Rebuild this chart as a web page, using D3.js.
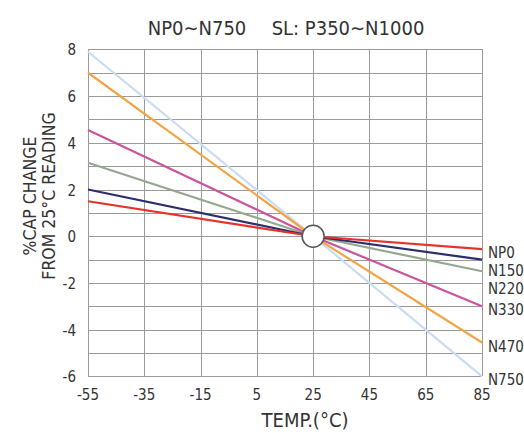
<!DOCTYPE html>
<meta charset="utf-8">
<title>Cap change vs temp</title>
<style>
body {
  margin: 0;
  background: #fff;
}
svg text {
  font-family: 'Liberation Sans Narrow', 'DejaVu Sans Condensed', sans-serif;
  font-stretch: condensed;
  fill: #333;
}
.grid line {
  stroke: #9a9a9a;
  stroke-width: 1;
  shape-rendering: crispEdges;
}
.series {
  fill: none;
  stroke-width: 2.2;
}
</style>
<body>
<svg width="524" height="433"></svg>
<script src="https://d3js.org/d3.v7.min.js"></script>
<script>
// temperatures (all curves pivot at 25C)
var temps = [-55, 25, 85];
var xTicks = [-55, -35, -15, 5, 25, 45, 65, 85];
var yTicks = [8, 6, 4, 2, 0, -2, -4, -6];

var seriesNames = ["N750", "N470", "N330", "N220", "N150", "NP0"];
var n750 = [7.9, 0, -6.0];
var n470 = [7.0, 0, -4.55];
var n330 = [4.55, 0, -3.0];
var n220 = [3.15, 0, -1.5];
var n150 = [2.0, 0, -1.0];
var np0  = [1.5, 0, -0.55];
var seriesColors = ["#c9dcf0", "#f4a445", "#c9559a", "#93a88e", "#2c2d6c", "#e5332c"];

var series = [n750, n470, n330, n220, n150, np0].map(function(v, i) {
  return { name: seriesNames[i], color: seriesColors[i],
           pts: v.map(function(d, j) { return { t: temps[j], v: d }; }) };
});

var svg = d3.select("svg");

var x = d3.scaleLinear().domain([-55, 85]).range([88, 482]);
var y = d3.scaleLinear().domain([-6, 8]).range([376.4, 49.4]);

// grid
var grid = svg.append("g").attr("class", "grid");
grid.selectAll("line.v")
  .data(xTicks)
  .enter().append("line")
    .attr("x1", function(d) { return Math.round(x(d)) + 0.5; })
    .attr("x2", function(d) { return Math.round(x(d)) + 0.5; })
    .attr("y1", y(8))
    .attr("y2", y(-6));
grid.selectAll("line.h")
  .data(d3.range(-6, 9))
  .enter().append("line")
    .attr("x1", x(-55))
    .attr("x2", x(85))
    .attr("y1", function(d) { return Math.round(y(d)) + 0.5; })
    .attr("y2", function(d) { return Math.round(y(d)) + 0.5; });

// curves
var line = d3.line()
  .x(function(d) { return x(d.t); })
  .y(function(d) { return y(d.v); });

svg.append("g").selectAll("path")
  .data(series)
  .enter().append("path")
    .attr("class", "series")
    .attr("stroke", function(d) { return d.color; })
    .attr("d", function(d) { return line(d.pts); });

// pivot circle at 25C
svg.append("circle")
  .attr("cx", x(25))
  .attr("cy", y(0))
  .attr("r", 11)
  .attr("fill", "#fff")
  .attr("stroke", "#555")
  .attr("stroke-width", 1.5);

// tick labels
svg.append("g").selectAll("text")
  .data(xTicks)
  .enter().append("text")
    .attr("x", function(d) { return x(d); })
    .attr("y", 400)
    .attr("text-anchor", "middle")
    .attr("font-size", "15px")
    .text(function(d) { return d; });

svg.append("g").selectAll("text")
  .data(yTicks)
  .enter().append("text")
    .attr("x", 76)
    .attr("y", function(d) { return y(d) + 6; })
    .attr("text-anchor", "end")
    .attr("font-size", "15px")
    .text(function(d) { return d; });

// right-hand series labels, nudged apart
var ordered = series.slice().reverse();
var prev = -Infinity;
ordered.forEach(function(s) {
  var ly = Math.max(y(s.pts[2].v) + 3, prev + 18);
  prev = ly;
  s.ly = ly;
});
svg.append("g").selectAll("text")
  .data(ordered)
  .enter().append("text")
    .attr("x", 488)
    .attr("y", function(d) { return d.ly + 6; })
    .attr("font-size", "15px")
    .text(function(d) { return d.name; });

// titles
svg.append("text")
  .attr("x", 197).attr("y", 35)
  .attr("text-anchor", "middle")
  .attr("font-size", "20px")
  .text("NP0\u223CN750");
svg.append("text")
  .attr("x", 348).attr("y", 35)
  .attr("text-anchor", "middle")
  .attr("font-size", "20px")
  .text("SL: P350\u223CN1000");

svg.append("text")
  .attr("x", 305).attr("y", 427)
  .attr("text-anchor", "middle")
  .attr("font-size", "20px")
  .text("TEMP.(\u00B0C)");

var yt = svg.append("text")
  .attr("transform", "translate(36,196) rotate(-90)")
  .attr("text-anchor", "middle")
  .attr("font-size", "17.5px");
yt.append("tspan").attr("x", 0).attr("y", 0).text("%CAP CHANGE");
yt.append("tspan").attr("x", 0).attr("y", 19).text("FROM 25\u00B0C READING");
</script>
</body>
